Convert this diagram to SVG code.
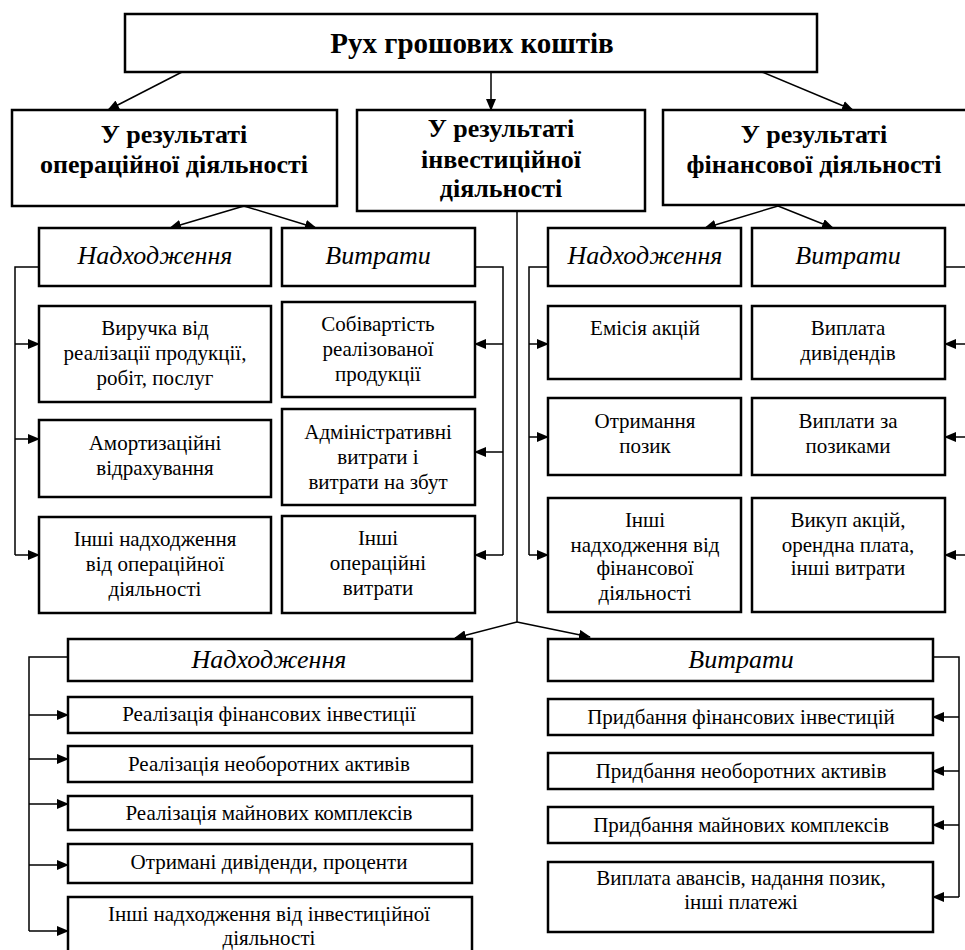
<svg xmlns="http://www.w3.org/2000/svg" width="965" height="950" viewBox="0 0 965 950">
<defs>
<marker id="ah" markerWidth="12" markerHeight="10" refX="11" refY="5" orient="auto" markerUnits="userSpaceOnUse">
<path d="M0,0 L12,5 L0,10 z" fill="#000"/>
</marker>
<style>
.box{fill:#fff;stroke:#000;stroke-width:2.5}
.ln{fill:none;stroke:#000;stroke-width:1.5}
.ar{fill:none;stroke:#000;stroke-width:1.5;marker-end:url(#ah)}
</style>
</defs>
<rect width="965" height="950" fill="#fff"/>
<g id="connectors">
<line class="ar" x1="182" y1="72" x2="108" y2="110"/>
<line class="ar" x1="491" y1="72" x2="491" y2="110"/>
<line class="ar" x1="762" y1="72" x2="853" y2="110"/>
<line class="ar" x1="244" y1="206" x2="170" y2="228"/>
<line class="ar" x1="244" y1="206" x2="316" y2="228"/>
<line class="ar" x1="778" y1="206" x2="705" y2="228"/>
<line class="ar" x1="778" y1="206" x2="833" y2="228"/>
<polyline class="ln" points="39,267 15,267 15,555"/>
<line class="ar" x1="15" y1="344" x2="39" y2="344"/>
<line class="ar" x1="15" y1="439" x2="39" y2="439"/>
<line class="ar" x1="15" y1="555" x2="39" y2="555"/>
<polyline class="ln" points="475,267 503,267 503,555"/>
<line class="ar" x1="503" y1="344" x2="475" y2="344"/>
<line class="ar" x1="503" y1="452" x2="475" y2="452"/>
<line class="ar" x1="503" y1="555" x2="475" y2="555"/>
<polyline class="ln" points="548,267 529,267 529,555"/>
<line class="ar" x1="529" y1="344" x2="548" y2="344"/>
<line class="ar" x1="529" y1="437" x2="548" y2="437"/>
<line class="ar" x1="529" y1="555" x2="548" y2="555"/>
<line class="ln" x1="945" y1="267" x2="966" y2="267"/>
<line class="ar" x1="966" y1="344" x2="945" y2="344"/>
<line class="ar" x1="966" y1="437" x2="945" y2="437"/>
<line class="ar" x1="966" y1="555" x2="945" y2="555"/>
<line class="ln" x1="517" y1="211" x2="517" y2="622"/>
<line class="ar" x1="517" y1="622" x2="455" y2="638"/>
<line class="ar" x1="517" y1="622" x2="590" y2="637"/>
<polyline class="ln" points="68,657 29,657 29,931"/>
<line class="ar" x1="29" y1="715" x2="68" y2="715"/>
<line class="ar" x1="29" y1="759" x2="68" y2="759"/>
<line class="ar" x1="29" y1="804" x2="68" y2="804"/>
<line class="ar" x1="29" y1="865" x2="68" y2="865"/>
<line class="ar" x1="29" y1="931" x2="68" y2="931"/>
<polyline class="ln" points="933,657 959,657 959,897"/>
<line class="ar" x1="959" y1="717" x2="933" y2="717"/>
<line class="ar" x1="959" y1="771" x2="933" y2="771"/>
<line class="ar" x1="959" y1="825" x2="933" y2="825"/>
<line class="ar" x1="959" y1="897" x2="933" y2="897"/>
</g>

<g id="root"><rect class="box" x="125" y="14" width="692" height="58"/><text font-family="Liberation Serif, Tinos, Noto Serif, DejaVu Serif, serif" font-size="29" font-weight="bold" text-anchor="middle" x="472" y="53">Рух грошових коштів</text></g>

<g id="op" font-size="26" font-weight="bold" text-anchor="middle"><rect class="box" x="12" y="110" width="325" height="96"/><text font-family="Liberation Serif, Tinos, Noto Serif, DejaVu Serif, serif" x="174" y="143">У результаті</text><text font-family="Liberation Serif, Tinos, Noto Serif, DejaVu Serif, serif" x="174" y="173">операційної діяльності</text></g>
<g id="inv" font-size="26" font-weight="bold" text-anchor="middle"><rect class="box" x="357" y="110" width="288" height="101"/><text font-family="Liberation Serif, Tinos, Noto Serif, DejaVu Serif, serif" x="501" y="137">У результаті</text><text font-family="Liberation Serif, Tinos, Noto Serif, DejaVu Serif, serif" x="501" y="168">інвестиційної</text><text font-family="Liberation Serif, Tinos, Noto Serif, DejaVu Serif, serif" x="501" y="197">діяльності</text></g>
<g id="fin" font-size="26" font-weight="bold" text-anchor="middle"><rect class="box" x="663" y="110" width="305" height="95"/><text font-family="Liberation Serif, Tinos, Noto Serif, DejaVu Serif, serif" x="814" y="143">У результаті</text><text font-family="Liberation Serif, Tinos, Noto Serif, DejaVu Serif, serif" x="814" y="173">фінансової діяльності</text></g>

<g id="op-in" font-size="26" font-style="italic" text-anchor="middle"><rect class="box" x="39" y="228" width="232" height="58"/><text font-family="Liberation Serif, Tinos, Noto Serif, DejaVu Serif, serif" x="155" y="264">Надходження</text></g>
<g id="op-out" font-size="26" font-style="italic" text-anchor="middle"><rect class="box" x="282" y="228" width="193" height="58"/><text font-family="Liberation Serif, Tinos, Noto Serif, DejaVu Serif, serif" x="378" y="264">Витрати</text></g>
<g id="op-in1" font-size="21" text-anchor="middle"><rect class="box" x="39" y="306" width="232" height="96"/><text font-family="Liberation Serif, Tinos, Noto Serif, DejaVu Serif, serif" x="155" y="335">Виручка від</text><text font-family="Liberation Serif, Tinos, Noto Serif, DejaVu Serif, serif" x="155" y="360">реалізації продукції,</text><text font-family="Liberation Serif, Tinos, Noto Serif, DejaVu Serif, serif" x="155" y="385">робіт, послуг</text></g>
<g id="op-in2" font-size="21" text-anchor="middle"><rect class="box" x="39" y="420" width="232" height="77"/><text font-family="Liberation Serif, Tinos, Noto Serif, DejaVu Serif, serif" x="155" y="450">Амортизаційні</text><text font-family="Liberation Serif, Tinos, Noto Serif, DejaVu Serif, serif" x="155" y="475">відрахування</text></g>
<g id="op-in3" font-size="21" text-anchor="middle"><rect class="box" x="39" y="517" width="232" height="96"/><text font-family="Liberation Serif, Tinos, Noto Serif, DejaVu Serif, serif" x="155" y="546">Інші надходження</text><text font-family="Liberation Serif, Tinos, Noto Serif, DejaVu Serif, serif" x="155" y="571">від операційної</text><text font-family="Liberation Serif, Tinos, Noto Serif, DejaVu Serif, serif" x="155" y="596">діяльності</text></g>
<g id="op-out1" font-size="21" text-anchor="middle"><rect class="box" x="282" y="302" width="193" height="95"/><text font-family="Liberation Serif, Tinos, Noto Serif, DejaVu Serif, serif" x="378" y="331">Собівартість</text><text font-family="Liberation Serif, Tinos, Noto Serif, DejaVu Serif, serif" x="378" y="356">реалізованої</text><text font-family="Liberation Serif, Tinos, Noto Serif, DejaVu Serif, serif" x="378" y="381">продукції</text></g>
<g id="op-out2" font-size="21" text-anchor="middle"><rect class="box" x="282" y="409" width="193" height="96"/><text font-family="Liberation Serif, Tinos, Noto Serif, DejaVu Serif, serif" x="378" y="439">Адміністративні</text><text font-family="Liberation Serif, Tinos, Noto Serif, DejaVu Serif, serif" x="378" y="464">витрати і</text><text font-family="Liberation Serif, Tinos, Noto Serif, DejaVu Serif, serif" x="378" y="489">витрати на збут</text></g>
<g id="op-out3" font-size="21" text-anchor="middle"><rect class="box" x="282" y="516" width="193" height="97"/><text font-family="Liberation Serif, Tinos, Noto Serif, DejaVu Serif, serif" x="378" y="545">Інші</text><text font-family="Liberation Serif, Tinos, Noto Serif, DejaVu Serif, serif" x="378" y="570">операційні</text><text font-family="Liberation Serif, Tinos, Noto Serif, DejaVu Serif, serif" x="378" y="595">витрати</text></g>

<g id="fin-in" font-size="26" font-style="italic" text-anchor="middle"><rect class="box" x="548" y="228" width="193" height="58"/><text font-family="Liberation Serif, Tinos, Noto Serif, DejaVu Serif, serif" x="645" y="264">Надходження</text></g>
<g id="fin-out" font-size="26" font-style="italic" text-anchor="middle"><rect class="box" x="752" y="228" width="193" height="58"/><text font-family="Liberation Serif, Tinos, Noto Serif, DejaVu Serif, serif" x="848" y="264">Витрати</text></g>
<g id="fin-in1" font-size="21" text-anchor="middle"><rect class="box" x="548" y="306" width="193" height="73"/><text font-family="Liberation Serif, Tinos, Noto Serif, DejaVu Serif, serif" x="645" y="335">Емісія акцій</text></g>
<g id="fin-in2" font-size="21" text-anchor="middle"><rect class="box" x="548" y="398" width="193" height="77"/><text font-family="Liberation Serif, Tinos, Noto Serif, DejaVu Serif, serif" x="645" y="428">Отримання</text><text font-family="Liberation Serif, Tinos, Noto Serif, DejaVu Serif, serif" x="645" y="453">позик</text></g>
<g id="fin-in3" font-size="21" text-anchor="middle"><rect class="box" x="548" y="498" width="193" height="114"/><text font-family="Liberation Serif, Tinos, Noto Serif, DejaVu Serif, serif" x="645" y="527">Інші</text><text font-family="Liberation Serif, Tinos, Noto Serif, DejaVu Serif, serif" x="645" y="552">надходження від</text><text font-family="Liberation Serif, Tinos, Noto Serif, DejaVu Serif, serif" x="645" y="575">фінансової</text><text font-family="Liberation Serif, Tinos, Noto Serif, DejaVu Serif, serif" x="645" y="600">діяльності</text></g>
<g id="fin-out1" font-size="21" text-anchor="middle"><rect class="box" x="752" y="306" width="193" height="73"/><text font-family="Liberation Serif, Tinos, Noto Serif, DejaVu Serif, serif" x="848" y="335">Виплата</text><text font-family="Liberation Serif, Tinos, Noto Serif, DejaVu Serif, serif" x="848" y="360">дивідендів</text></g>
<g id="fin-out2" font-size="21" text-anchor="middle"><rect class="box" x="752" y="398" width="193" height="77"/><text font-family="Liberation Serif, Tinos, Noto Serif, DejaVu Serif, serif" x="848" y="428">Виплати за</text><text font-family="Liberation Serif, Tinos, Noto Serif, DejaVu Serif, serif" x="848" y="453">позиками</text></g>
<g id="fin-out3" font-size="21" text-anchor="middle"><rect class="box" x="752" y="498" width="193" height="114"/><text font-family="Liberation Serif, Tinos, Noto Serif, DejaVu Serif, serif" x="848" y="527">Викуп акцій,</text><text font-family="Liberation Serif, Tinos, Noto Serif, DejaVu Serif, serif" x="848" y="552">орендна плата,</text><text font-family="Liberation Serif, Tinos, Noto Serif, DejaVu Serif, serif" x="848" y="575">інші витрати</text></g>

<g id="inv-in" font-size="26" font-style="italic" text-anchor="middle"><rect class="box" x="68" y="639" width="404" height="42"/><text font-family="Liberation Serif, Tinos, Noto Serif, DejaVu Serif, serif" x="269" y="668">Надходження</text></g>
<g id="inv-in1" font-size="21" text-anchor="middle"><rect class="box" x="68" y="697" width="404" height="36"/><text font-family="Liberation Serif, Tinos, Noto Serif, DejaVu Serif, serif" x="269" y="721">Реалізація фінансових інвестиції</text></g>
<g id="inv-in2" font-size="21" text-anchor="middle"><rect class="box" x="68" y="746" width="404" height="36"/><text font-family="Liberation Serif, Tinos, Noto Serif, DejaVu Serif, serif" x="269" y="771">Реалізація необоротних активів</text></g>
<g id="inv-in3" font-size="21" text-anchor="middle"><rect class="box" x="68" y="796" width="404" height="34"/><text font-family="Liberation Serif, Tinos, Noto Serif, DejaVu Serif, serif" x="269" y="820">Реалізація майнових комплексів</text></g>
<g id="inv-in4" font-size="21" text-anchor="middle"><rect class="box" x="68" y="844" width="404" height="39"/><text font-family="Liberation Serif, Tinos, Noto Serif, DejaVu Serif, serif" x="269" y="869">Отримані дивіденди, проценти</text></g>
<g id="inv-in5" font-size="21" text-anchor="middle"><rect class="box" x="68" y="897" width="404" height="60"/><text font-family="Liberation Serif, Tinos, Noto Serif, DejaVu Serif, serif" x="269" y="921">Інші надходження від інвестиційної</text><text font-family="Liberation Serif, Tinos, Noto Serif, DejaVu Serif, serif" x="269" y="945">діяльності</text></g>

<g id="inv-out" font-size="26" font-style="italic" text-anchor="middle"><rect class="box" x="548" y="639" width="385" height="42"/><text font-family="Liberation Serif, Tinos, Noto Serif, DejaVu Serif, serif" x="741" y="668">Витрати</text></g>
<g id="inv-out1" font-size="21" text-anchor="middle"><rect class="box" x="548" y="699" width="385" height="36"/><text font-family="Liberation Serif, Tinos, Noto Serif, DejaVu Serif, serif" x="741" y="724">Придбання фінансових інвестицій</text></g>
<g id="inv-out2" font-size="21" text-anchor="middle"><rect class="box" x="548" y="753" width="385" height="36"/><text font-family="Liberation Serif, Tinos, Noto Serif, DejaVu Serif, serif" x="741" y="778">Придбання необоротних активів</text></g>
<g id="inv-out3" font-size="21" text-anchor="middle"><rect class="box" x="548" y="807" width="385" height="36"/><text font-family="Liberation Serif, Tinos, Noto Serif, DejaVu Serif, serif" x="741" y="832">Придбання майнових комплексів</text></g>
<g id="inv-out4" font-size="21" text-anchor="middle"><rect class="box" x="548" y="862" width="385" height="70"/><text font-family="Liberation Serif, Tinos, Noto Serif, DejaVu Serif, serif" x="741" y="885">Виплата авансів, надання позик,</text><text font-family="Liberation Serif, Tinos, Noto Serif, DejaVu Serif, serif" x="741" y="909">інші платежі</text></g>
</svg>
